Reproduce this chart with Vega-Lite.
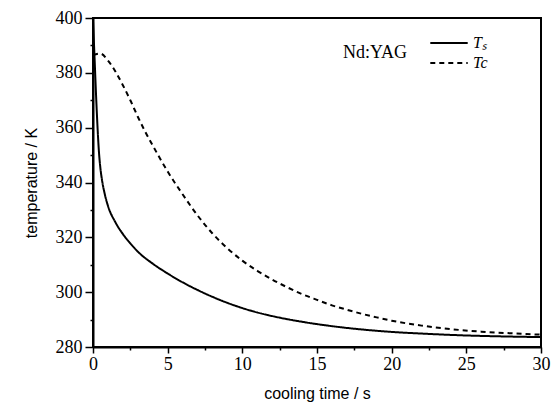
{
  "$schema": "https://vega.github.io/schema/vega-lite/v6.json",
  "width": 448,
  "height": 329,
  "autosize": "none",
  "padding": {"left": 93, "top": 18, "right": 15, "bottom": 65},
  "background": "white",
  "config": {
    "view": {"stroke": "black", "strokeWidth": 2}
  },
  "data": {
    "values": [
      {"t": 0, "T": 399, "series": "Ts"},
      {"t": 0.1, "T": 386, "series": "Ts"},
      {"t": 0.2, "T": 372.5, "series": "Ts"},
      {"t": 0.3, "T": 360.5, "series": "Ts"},
      {"t": 0.4, "T": 351, "series": "Ts"},
      {"t": 0.5, "T": 345, "series": "Ts"},
      {"t": 0.6, "T": 341, "series": "Ts"},
      {"t": 0.8, "T": 335.5, "series": "Ts"},
      {"t": 1.0, "T": 331.5, "series": "Ts"},
      {"t": 1.5, "T": 325.5, "series": "Ts"},
      {"t": 2.0, "T": 321.2, "series": "Ts"},
      {"t": 2.5, "T": 317.8, "series": "Ts"},
      {"t": 3.0, "T": 314.8, "series": "Ts"},
      {"t": 4.0, "T": 310.4, "series": "Ts"},
      {"t": 5.0, "T": 306.8, "series": "Ts"},
      {"t": 6.0, "T": 303.6, "series": "Ts"},
      {"t": 7.0, "T": 300.8, "series": "Ts"},
      {"t": 8.0, "T": 298.3, "series": "Ts"},
      {"t": 9.0, "T": 296.1, "series": "Ts"},
      {"t": 10.0, "T": 294.2, "series": "Ts"},
      {"t": 11.0, "T": 292.6, "series": "Ts"},
      {"t": 12.5, "T": 290.7, "series": "Ts"},
      {"t": 14.0, "T": 289.2, "series": "Ts"},
      {"t": 16.0, "T": 287.6, "series": "Ts"},
      {"t": 18.0, "T": 286.4, "series": "Ts"},
      {"t": 20.0, "T": 285.5, "series": "Ts"},
      {"t": 22.0, "T": 284.9, "series": "Ts"},
      {"t": 25.0, "T": 284.2, "series": "Ts"},
      {"t": 28.0, "T": 283.8, "series": "Ts"},
      {"t": 30.0, "T": 283.6, "series": "Ts"},
      {"t": 0, "T": 386.5, "series": "Tc"},
      {"t": 0.5, "T": 387, "series": "Tc"},
      {"t": 1.0, "T": 384.5, "series": "Tc"},
      {"t": 1.5, "T": 380.5, "series": "Tc"},
      {"t": 2.0, "T": 375.5, "series": "Tc"},
      {"t": 2.5, "T": 370, "series": "Tc"},
      {"t": 3.0, "T": 364, "series": "Tc"},
      {"t": 3.5, "T": 358.5, "series": "Tc"},
      {"t": 4.0, "T": 353.5, "series": "Tc"},
      {"t": 5.0, "T": 344, "series": "Tc"},
      {"t": 6.0, "T": 335.7, "series": "Tc"},
      {"t": 7.0, "T": 328, "series": "Tc"},
      {"t": 8.0, "T": 321.4, "series": "Tc"},
      {"t": 9.0, "T": 316, "series": "Tc"},
      {"t": 10.0, "T": 311.5, "series": "Tc"},
      {"t": 11.0, "T": 307.8, "series": "Tc"},
      {"t": 12.0, "T": 304.6, "series": "Tc"},
      {"t": 13.0, "T": 301.8, "series": "Tc"},
      {"t": 14.0, "T": 299.3, "series": "Tc"},
      {"t": 15.0, "T": 297.2, "series": "Tc"},
      {"t": 16.0, "T": 295.2, "series": "Tc"},
      {"t": 17.0, "T": 293.6, "series": "Tc"},
      {"t": 18.0, "T": 292.1, "series": "Tc"},
      {"t": 19.0, "T": 290.8, "series": "Tc"},
      {"t": 20.0, "T": 289.6, "series": "Tc"},
      {"t": 22.0, "T": 287.8, "series": "Tc"},
      {"t": 24.0, "T": 286.5, "series": "Tc"},
      {"t": 26.0, "T": 285.6, "series": "Tc"},
      {"t": 28.0, "T": 285, "series": "Tc"},
      {"t": 30.0, "T": 284.5, "series": "Tc"}
    ]
  },
  "mark": {"type": "line", "color": "black", "strokeWidth": 2, "clip": true, "interpolate": "monotone"},
  "encoding": {
    "x": {
      "field": "t",
      "type": "quantitative",
      "scale": {"domain": [0, 30], "nice": false, "zero": false},
      "axis": {
        "title": "cooling time / s",
        "grid": false,
        "domainColor": "black",
        "domainWidth": 2,
        "tickColor": "black",
        "tickWidth": 1.5,
        "labelColor": "black",
        "labelFont": "Liberation Serif",
        "labelFontSize": 18,
        "titleFont": "Liberation Sans",
        "titleFontSize": 16,
        "titleFontWeight": "normal",
        "titleColor": "black",
        "values": [0, 2.5, 5, 7.5, 10, 12.5, 15, 17.5, 20, 22.5, 25, 27.5, 30],
        "labelExpr": "datum.value % 5 === 0 ? datum.label : ''",
        "tickSize": {"condition": {"test": "datum.value % 5 === 0", "value": 6}, "value": 3},
        "labelPadding": 2,
        "titlePadding": 12,
        "labelFlush": false
      }
    },
    "y": {
      "field": "T",
      "type": "quantitative",
      "scale": {"domain": [280, 400], "nice": false, "zero": false},
      "axis": {
        "title": "temperature / K",
        "grid": false,
        "domainColor": "black",
        "domainWidth": 2,
        "tickColor": "black",
        "tickWidth": 1.5,
        "labelColor": "black",
        "labelFont": "Liberation Serif",
        "labelFontSize": 18,
        "titleFont": "Liberation Sans",
        "titleFontSize": 16,
        "titleFontWeight": "normal",
        "titleColor": "black",
        "values": [280, 290, 300, 310, 320, 330, 340, 350, 360, 370, 380, 390, 400],
        "labelExpr": "datum.value % 20 === 0 ? datum.label : ''",
        "tickSize": {"condition": {"test": "datum.value % 20 === 0", "value": 8}, "value": 3},
        "labelPadding": 3,
        "titlePadding": 16,
        "labelFlush": false
      }
    },
    "strokeDash": {
      "field": "series",
      "type": "nominal",
      "scale": {"domain": ["Ts", "Tc"], "range": [[1, 0], [5, 4]]},
      "legend": {
        "title": "Nd:YAG",
        "titleOrient": "left",
        "titleFont": "Liberation Serif",
        "titleFontSize": 18,
        "titleFontWeight": "normal",
        "titleColor": "black",
        "titleAnchor": "middle",
        "titlePadding": 21,
        "orient": "none",
        "legendX": 250,
        "legendY": 15,
        "symbolType": "stroke",
        "symbolSize": 1400,
        "symbolStrokeColor": "black",
        "symbolStrokeWidth": 2,
        "labelFont": "Liberation Serif",
        "labelFontStyle": "italic",
        "labelFontSize": 16,
        "labelColor": "black",
        "rowPadding": 0,
        "clipHeight": 20,
        "labelExpr": "datum.value === 'Ts' ? 'Tₛ' : 'Tc'"
      }
    }
  }
}
